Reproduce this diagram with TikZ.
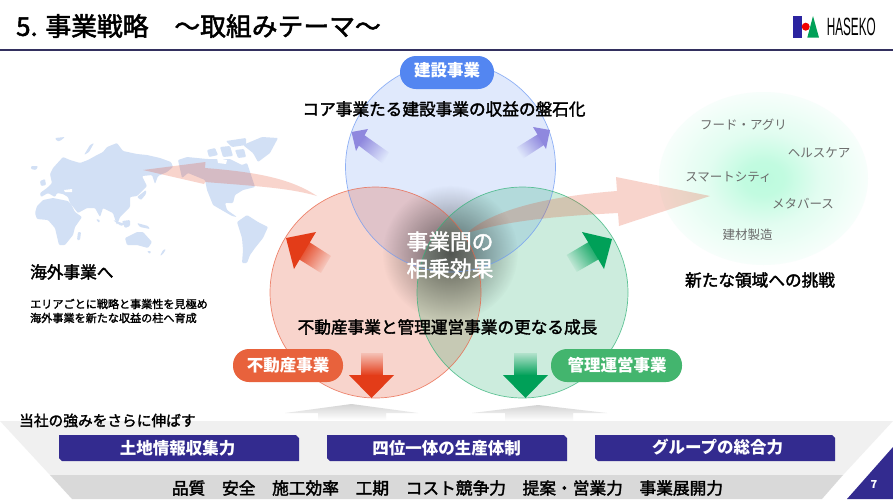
\documentclass[tikz,border=0pt]{standalone}
\usepackage{fontspec}
\setmainfont{Noto Sans CJK JP}
\newfontfamily\jpm[FakeBold=2]{Noto Sans CJK JP}
\newfontfamily\logofont{Liberation Sans}
\usetikzlibrary{fadings,shadings}
\definecolor{navy}{HTML}{332B8F}
\definecolor{rulec}{HTML}{33305F}
\definecolor{mapc}{HTML}{D2E0F5}
\definecolor{redc}{HTML}{E33C18}
\definecolor{bluec}{HTML}{4A80F0}
\definecolor{greenc}{HTML}{00A058}
\definecolor{purplec}{HTML}{8F88DE}
\definecolor{pillred}{HTML}{E8623C}
\definecolor{pillgreen}{HTML}{43B56E}
\tikzfading[name=fshaft, top color=transparent!88, bottom color=transparent!0]
\tikzfading[name=fdiag, top color=transparent!100, middle color=transparent!50, bottom color=transparent!0]
\tikzfading[name=glowf, inner color=transparent!45, outer color=transparent!100]
\pgfdeclareradialshading{mintglow}{\pgfpoint{0bp}{0bp}}{rgb(0bp)=(.74,.98,.87); rgb(5bp)=(.76,.985,.88); rgb(13bp)=(.88,.99,.94); rgb(25bp)=(.97,.998,.985); rgb(100bp)=(1,1,1)}
\tikzset{
  jp/.style={inner sep=0pt,font=\jpm\fontsize{16.65}{20}\selectfont,text=black},
  pill/.style={rounded corners=16pt},
  pilltext/.style={inner sep=0pt,font=\bfseries\fontsize{16.5}{20}\selectfont,text=white},
  mint/.style={inner sep=0pt,font=\fontsize{12.5}{15}\selectfont,text=black!58},
  sm/.style={inner sep=0pt,font=\jpm\fontsize{11.1}{14}\selectfont,text=black},
  land/.style={fill=mapc,rounded corners=1pt},
}
\begin{document}
\begin{tikzpicture}[x=1pt,y=-1pt]
\useasboundingbox (0,0) rectangle (893,499);
\fill[white] (0,0) rectangle (893,499);
% header
\node[inner sep=0pt,anchor=west,font=\jpm\fontsize{25.8}{30}\selectfont] (title) at (16,26) {5. 事業戦略　〜取組みテーマ〜};
\draw[rulec,line width=2pt] (0,50) -- (893,50);
% logo
\fill[navy!85!blue] (793.3,16) rectangle (801.7,37.7);
\fill[greenc] (813,16) -- (819,37.7) -- (807.3,37.7) -- cycle;
\fill[red!95!black] (805.7,26.7) circle (4);
\node[inner sep=0pt,anchor=west,xscale=.47,font=\logofont\fontsize{25}{25}\selectfont] (logo) at (826.7,27) {HASEKO};
% world map
\fill[land] (41,197) -- (40,193) -- (47,188) -- (52,183) -- (50,174) -- (53,168) -- (63,157) -- (70,160) -- (80,163) -- (88,160) -- (97,155) -- (103,152) -- (107,147) -- (117,143) -- (123,151) -- (137,154) -- (147,155) -- (160,158) -- (171,162) -- (173,167) -- (167,172) -- (158,176) -- (155,184) -- (152,175) -- (142,176) -- (147,186) -- (137,196) -- (130,197) -- (130,207) -- (120,217) -- (117,225) -- (113,213) -- (103,208) -- (100,217) -- (95,208) -- (87,208) -- (78,213) -- (70,203) -- (68,197) -- (63,194) -- (57,193) -- (55,197) -- (48,193) -- cycle;
\fill[land] (35,213) -- (37,206) -- (43,200) -- (53,198) -- (68,201) -- (71,204) -- (75,212) -- (82,217) -- (75,227) -- (73,235) -- (65,245) -- (59,245) -- (55,228) -- (48,220) -- (37,219) -- cycle;
\fill[land] (125,238) -- (137,232) -- (143,232) -- (152,242) -- (148,248) -- (137,245) -- (127,245) -- cycle;
\fill[land] (243,145) -- (262,137) -- (278,138) -- (270,153) -- (258,162) -- (253,153) -- cycle;
\fill[land] (178,160) -- (187,157) -- (207,159) -- (230,159) -- (242,165) -- (247,163) -- (255,187) -- (243,190) -- (235,195) -- (233,203) -- (225,203) -- (227,210) -- (237,217) -- (232,216) -- (213,205) -- (207,190) -- (205,180) -- (188,173) -- (182,178) -- cycle;
\fill[land] (207,150) -- (215,148) -- (218,155) -- (209,157) -- cycle;
\fill[land] (220,147) -- (230,146) -- (233,156) -- (223,157) -- cycle;
\fill[land] (235,150) -- (244,149) -- (246,157) -- (238,158) -- cycle;
\fill[land] (226,141) -- (246,138) -- (246,145) -- (232,147) -- cycle;
\fill[land] (237,222) -- (247,215) -- (258,222) -- (268,227) -- (263,238) -- (255,248) -- (250,255) -- (247,263) -- (242,263) -- (243,250) -- (242,238) -- cycle;
\fill[land] (78,232) -- (81,232) -- (80,240) -- (77,240) -- cycle;
\fill[land] (40,181) -- (45,179) -- (46,185) -- (41,186) -- cycle;
\fill[land] (31,166) -- (38,166) -- (36,170) -- (31,169) -- cycle;
\fill[land] (55,138) -- (65,137) -- (60,141) -- (57,141) -- cycle;
\fill[land] (84,155) -- (90,145) -- (94,143) -- (89,152) -- cycle;
\fill[land] (137,197) -- (146,190) -- (146,194) -- (141,200) -- cycle;
\fill[land] (113,220) -- (125,224) -- (121,226) -- cycle;
\fill[land] (122,221) -- (130,220) -- (130,226) -- (125,228) -- cycle;
\fill[land] (137,223) -- (148,226) -- (150,229) -- (140,227) -- cycle;
\fill[land] (96,219) -- (100,220) -- (99,223) -- cycle;
\fill[land] (147,251) -- (151,251) -- (150,254) -- cycle;
\fill[land] (166,249) -- (163,254) -- (160,256) -- (163,250) -- cycle;
\fill[white] (64,190) -- (72,189) -- (72,192) -- (65,192) -- cycle;
\fill[white] (217,158) -- (227,160) -- (226,164) -- (218,163) -- cycle;
\fill[white] (226,203) -- (238,205) -- (240,207) -- (229,208) -- cycle;
% map arrow
\fill[redc,opacity=.22] (143,170) -- (205.5,162) -- (205,168) .. controls (255,172) and (290,178) .. (317,196) .. controls (290,188) and (255,186) .. (205,182) -- (204,184) -- cycle;
% mint ellipse
\shade[shading=mintglow] (763.5,178.5) ellipse [x radius=104.5,y radius=86.5];
% circles
\fill[bluec,opacity=.17] (450.5,167) circle (105);
\fill[redc,opacity=.22] (375.5,292.5) circle (105.5);
\fill[greenc,opacity=.20] (522.5,292.5) circle (105.5);
\fill[black,path fading=glowf] (450,253) circle (68);
\draw[bluec!80,opacity=.75,line width=.7pt] (450.5,167) circle (105);
\draw[redc!80,opacity=.75,line width=.7pt] (375.5,292.5) circle (105.5);
\draw[greenc!80,opacity=.75,line width=.7pt] (522.5,292.5) circle (105.5);
% big arrow
\fill[redc,opacity=.22] (467,233) .. controls (490,212) and (540,197) .. (617,191) -- (616,177) -- (710,196) -- (619,226) -- (618,213) .. controls (560,216) and (510,220) .. (467,233) -- cycle;
% gradient arrows: solid head, fading shaft
\fill[purplec] (351.5,132) -- (368,129) -- (356,151) -- cycle;
\fill[purplec,path fading=fdiag,fading angle=-128] (362,133.5) -- (389,152.5) -- (383,164) -- (358,145) -- cycle;
\fill[purplec] (550,130) -- (533,127) -- (546,149) -- cycle;
\fill[purplec,path fading=fdiag,fading angle=128] (540,133) -- (516.5,147.5) -- (522.7,158.9) -- (544,145) -- cycle;
\fill[redc] (286,238) -- (316,232) -- (294,269) -- cycle;
\fill[redc,path fading=fdiag,fading angle=-123] (306,240) -- (331,256) -- (321,273) -- (297,258) -- cycle;
\fill[greenc] (612,239) -- (582,232) -- (604,269) -- cycle;
\fill[greenc,path fading=fdiag,fading angle=123] (592,240) -- (566.6,255) -- (576.6,272) -- (601,258) -- cycle;
\fill[redc] (394,375) -- (371.5,398) -- (349,375) -- cycle;
\fill[redc,path fading=fshaft] (361,353) rectangle (383,375.5);
\fill[greenc] (548,375) -- (525.5,398) -- (503,375) -- cycle;
\fill[greenc,path fading=fshaft] (514,353) rectangle (537,375.5);
% pills
\fill[bluec!95!white,pill] (400,56) rectangle (494,89);
\fill[pillred,pill] (233,349) rectangle (343,382);
\fill[pillgreen,pill] (551,349) rectangle (682,382);
\node[pilltext] (kensetsu) at (447,70.5) {建設事業};
\node[pilltext] (fudosan) at (288,365) {不動産事業};
\node[pilltext] (kanri) at (617,365) {管理運営事業};
% labels
\node[jp] (core) at (444,109) {コア事業たる建設事業の収益の盤石化};
\node[jp] (grow) at (447.5,327) {不動産事業と管理運営事業の更なる成長};
\node[jp,anchor=west] (kaigai) at (30,272) {海外事業へ};
\node[sm,anchor=west] (kaigai1) at (30,304) {エリアごとに戦略と事業性を見極め};
\node[sm,anchor=west] (kaigai2) at (30,318) {海外事業を新たな収益の柱へ育成};
\node[jp] (chosen) at (760,280) {新たな領域への挑戦};
\node[inner sep=0pt,text=white,font=\jpm\fontsize{21.7}{27}\selectfont,align=center] (center) at (450,255) {事業間の\\相乗効果};
\node[mint] (m1) at (743.5,125) {フード・アグリ};
\node[mint] (m2) at (819,153) {ヘルスケア};
\node[mint] (m3) at (728.5,177) {スマートシティ};
\node[mint] (m4) at (803,204) {メタバース};
\node[mint] (m5) at (747.5,235) {建材製造};
% up arrows
\shade[top color=black!17,bottom color=white] (351.5,404) -- (418,413) -- (386,413) -- (386,420) -- (318,420) -- (318,413) -- (285,413) -- cycle;
\shade[top color=black!17,bottom color=white] (538,405) -- (607,413) -- (573,413) -- (573,421) -- (505,421) -- (505,413) -- (472,413) -- cycle;
% pyramid bands
\fill[black!6] (0,421) -- (893,421) -- (843,475) -- (50,475) -- cycle;
\fill[black!15] (50,475) -- (843,475) -- (822,499) -- (72,499) -- cycle;
\node[inner sep=0pt,anchor=west,font=\jpm\fontsize{14.7}{18}\selectfont] (tsuyomi) at (19,420.5) {当社の強みをさらに伸ばす};
\fill[navy] (59,435) -- (296,435) -- (299,438) -- (299,461) -- (62,461) -- (59,458) -- cycle;
\fill[navy] (327,435) -- (564,435) -- (567,438) -- (567,461) -- (330,461) -- (327,458) -- cycle;
\fill[navy] (595,435) -- (832,435) -- (835,438) -- (835,461) -- (598,461) -- (595,458) -- cycle;
\node[pilltext] (b1) at (177.5,448) {土地情報収集力};
\node[pilltext] (b2) at (446.5,448) {四位一体の生産体制};
\node[pilltext] (b3) at (717.5,447) {グループの総合力};
\node[inner sep=0pt,font=\jpm\fontsize{16.7}{20}\selectfont] (list) at (447.5,488) {品質　安全　施工効率　工期　コスト競争力　提案・営業力　事業展開力};
% page number
\fill[navy] (893,447) -- (893,499) -- (847,499) -- cycle;
\node[inner sep=0pt,text=white,font=\bfseries\fontsize{11}{12}\selectfont] (pg) at (874,484) {7};
\end{tikzpicture}
\end{document}
